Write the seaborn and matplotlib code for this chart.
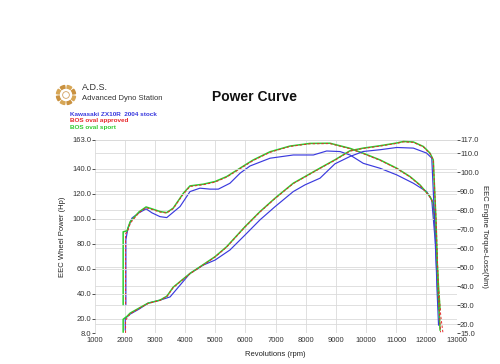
import matplotlib
matplotlib.use("Agg")
import matplotlib.pyplot as plt
import matplotlib.patches as mpatches
import seaborn as sns

# torque curves (right axis, Nm) - upper group
green_tq_rpm = [1950, 1950, 2080, 2180, 2475, 2710, 2905, 3170, 3390, 3610, 3945, 4165, 4605, 4995,
                5380, 5820, 6265, 6820, 7480, 8145, 8805, 9470, 9910, 10465, 11020, 11460, 11790,
                12120, 12230, 12320, 12390, 12455]
green_tq = [30.2, 68.6, 69.1, 73.8, 79.1, 81.7, 80.7, 79.3, 78.7, 81.1, 88.9, 92.8, 93.7, 95.1,
            97.7, 102.1, 106.5, 110.8, 113.8, 115.2, 115.3, 112.6, 110.0, 106.5, 102.1, 97.7, 93.3,
            87.2, 83.7, 64.4, 43.3, 27.5]

red_tq_rpm = [2030, 2030, 2100, 2190, 2475, 2710, 2905, 3170, 3390, 3610, 3945, 4165, 4605, 4995,
              5380, 5820, 6265, 6820, 7480, 8145, 8805, 9470, 9910, 10465, 11020, 11460, 11790,
              12120, 12230, 12330, 12400, 12480, 12550]
red_tq = [30.5, 67.5, 69.0, 73.2, 78.7, 81.3, 80.4, 79.0, 78.5, 80.8, 88.5, 92.5, 93.4, 94.8,
          97.4, 101.8, 106.2, 110.5, 113.6, 115.0, 115.1, 112.4, 109.8, 106.3, 101.9, 97.5, 93.1,
          87.0, 83.4, 62.0, 40.0, 24.0, 15.5]

blue_tq_rpm = [2040, 2040, 2110, 2245, 2475, 2710, 2905, 3170, 3395, 3835, 4165, 4495, 4830, 5105,
               5490, 5825, 6155, 6820, 7590, 8255, 8695, 9140, 9470, 9910, 10465, 11020, 11570,
               12010, 12180, 12290, 12355, 12405]
blue_tq = [30.2, 64.4, 70.7, 75.9, 78.6, 80.7, 78.6, 76.6, 76.1, 81.9, 89.8, 91.6, 91.1, 91.1,
           94.2, 99.5, 103.3, 107.4, 109.1, 109.1, 111.2, 110.9, 109.1, 104.7, 102.1, 98.6, 94.2,
           89.8, 85.4, 64.4, 43.3, 27.5]

# power curves (left axis, hp) - lower group
green_hp_rpm = [1950, 1950, 2080, 2180, 2475, 2775, 3170, 3400, 3610, 4165, 4495, 4995, 5380,
                5990, 6485, 6985, 7590, 7980, 8475, 8970, 9470, 9910, 10465, 11020, 11240, 11570,
                11900, 12120, 12230, 12320, 12390, 12455]
green_hp = [9.0, 19.4, 21.8, 24.3, 28.3, 32.3, 34.7, 37.9, 45.1, 56.1, 61.4, 69.5, 77.5,
            93.6, 105.6, 116.4, 128.4, 133.7, 140.5, 147.1, 154.4, 156.5, 158.4, 160.6, 161.8, 161.4,
            157.8, 152.5, 147.1, 99.0, 42.7, 10.6]

red_hp_rpm = [2030, 2030, 2100, 2190, 2475, 2775, 3170, 3400, 3610, 4165, 4495, 4995, 5380,
              5990, 6485, 6985, 7590, 7980, 8475, 8970, 9470, 9910, 10465, 11020, 11240, 11570,
              11900, 12120, 12230, 12330, 12400, 12470]
red_hp = [8.5, 18.5, 21.2, 23.8, 28.0, 32.0, 34.5, 37.6, 44.8, 55.8, 61.1, 69.2, 77.2,
          93.3, 105.3, 116.1, 128.1, 133.4, 140.2, 146.8, 154.1, 156.2, 158.1, 160.3, 161.5, 161.1,
          157.5, 152.2, 146.8, 95.0, 40.0, 9.0]

blue_hp_rpm = [2020, 2020, 2180, 2475, 2775, 3170, 3505, 4165, 4605, 4995, 5490, 5990, 6485,
               6985, 7590, 7980, 8475, 8970, 9470, 9910, 10465, 11020, 11570, 12010, 12180,
               12290, 12355, 12405]
blue_hp = [10.6, 20.2, 23.5, 27.5, 32.3, 34.7, 37.3, 56.1, 62.8, 66.8, 74.9, 86.9, 99.0,
           109.6, 121.7, 127.1, 132.4, 143.9, 149.8, 153.8, 155.2, 157.0, 156.5, 152.5, 148.5,
           90.9, 42.7, 14.6]

x_ticks = list(range(1000, 13001, 1000))
hp_ticks = [8, 20, 40, 60, 80, 100, 120, 140, 163]
tq_ticks = [15, 20, 30, 40, 50, 60, 70, 80, 90, 100, 110, 117]
legend_names = ["Kawasaki ZX10R  2004 stock", "BOS oval approved", "BOS oval sport"]

BLUE, RED, GREEN = "#3a3ade", "#e8262a", "#2fcc2f"

sns.set_style("white")
plt.rcParams["font.family"] = ["Liberation Sans", "DejaVu Sans"]

fig = plt.figure(figsize=(5, 3.64), dpi=100)
ax = fig.add_axes([0.189, 0.0838, 0.724, 0.5316])
ax2 = ax.twinx()

# torque axis behind power axis, so both grids sit under all lines
ax.set_zorder(ax2.get_zorder() + 1)
ax.patch.set_visible(False)

grid_kw = dict(color="#dadada", lw=0.6)
for v in x_ticks:
    ax2.axvline(v, zorder=0, **grid_kw)
for v in tq_ticks:
    ax2.axhline(v, zorder=0, **grid_kw)

# torque (right)
sns.lineplot(x=blue_tq_rpm, y=blue_tq, sort=False, estimator=None, ax=ax2, color=BLUE, lw=0.85)
sns.lineplot(x=green_tq_rpm, y=green_tq, sort=False, estimator=None, ax=ax2, color=GREEN, lw=1.1)
sns.lineplot(x=red_tq_rpm, y=red_tq, sort=False, estimator=None, ax=ax2, color=RED, lw=0.7,
             dashes=False).lines[-1].set_dashes([2.5, 2])

# power (left)
for v in hp_ticks:
    ax.axhline(v, zorder=0, **grid_kw)
sns.lineplot(x=blue_hp_rpm, y=blue_hp, sort=False, estimator=None, ax=ax, color=BLUE, lw=0.85)
sns.lineplot(x=green_hp_rpm, y=green_hp, sort=False, estimator=None, ax=ax, color=GREEN, lw=1.1)
sns.lineplot(x=red_hp_rpm, y=red_hp, sort=False, estimator=None, ax=ax, color=RED, lw=0.7,
             dashes=False).lines[-1].set_dashes([2.5, 2])

ax.set_xlim(1000, 13000)
ax.set_ylim(8, 163)
ax2.set_ylim(15, 117)

ax.set_xticks(x_ticks)
ax.set_xticklabels([str(v) for v in x_ticks])
ax.set_yticks(hp_ticks)
ax.set_yticklabels([f"{v:.1f}" for v in hp_ticks])
ax2.set_yticks(tq_ticks)
ax2.set_yticklabels([f"{v:.1f}" for v in tq_ticks])

for a in (ax, ax2):
    for s in a.spines.values():
        s.set_visible(False)
    a.tick_params(labelsize=5.5, colors="#333333", length=2, width=0.6, pad=0.5)
    a.set_xlabel("")
    a.set_ylabel("")

ax.set_xlabel("Revolutions (rpm)", fontsize=5.5, color="#222222", labelpad=5)
ax.set_ylabel("EEC Wheel Power (Hp)", fontsize=5.5, color="#222222", labelpad=4)
ax2.set_ylabel("EEC Engine Torque-Loss(Nm)", fontsize=5.5, color="#222222", rotation=270, labelpad=7)

# header
fig.text(255 / 500, 1 - 97 / 364, "Power Curve", ha="center", va="center",
         fontsize=10, fontweight="bold", color="#111111")
fig.text(82 / 500, 1 - 88 / 364, "A.D.S.", ha="left", va="center", fontsize=6.5, color="#333333")
fig.text(82 / 500, 1 - 98 / 364, "Advanced Dyno Station", ha="left", va="center",
         fontsize=5.5, color="#333333")
for i, (name, c) in enumerate(zip(legend_names, [BLUE, RED, GREEN])):
    fig.text(70 / 500, 1 - (114 + 6.8 * i) / 364, name, ha="left", va="center",
             fontsize=4.6, fontweight="bold", color=c)

# logo ring
lax = fig.add_axes([54 / 500, 1 - 107 / 364, 24 / 500, 24 / 364])
lax.set_xlim(-1, 1)
lax.set_ylim(-1, 1)
lax.set_aspect("equal")
lax.axis("off")
for k in range(8):
    lax.add_patch(mpatches.Wedge((0, 0), 0.8, k * 45 + 8, k * 45 + 37, width=0.22,
                                 color="#d7a655" if k % 2 else "#c9913f"))
lax.add_patch(mpatches.Circle((0, 0), 0.28, fill=False, ec="#d0a060", lw=0.6))

fig.savefig("out.png", dpi=100)
